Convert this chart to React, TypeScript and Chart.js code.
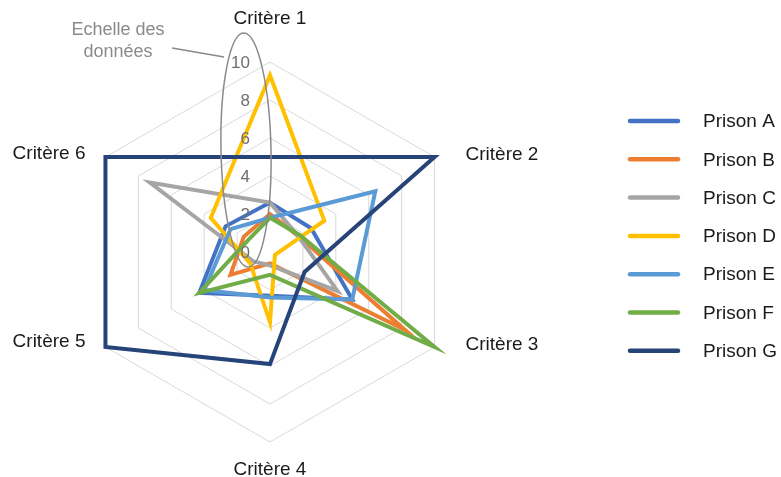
import React, { useEffect, useRef } from "react";
import { Chart, registerables } from "chart.js";

Chart.register(...registerables);

const criteria = ["Critère 1", "Critère 2", "Critère 3", "Critère 4", "Critère 5", "Critère 6"];
const tickValues = [0, 2, 4, 6, 8, 10];
const seriesNames = ["Prison A", "Prison B", "Prison C", "Prison D", "Prison E", "Prison F", "Prison G"];
const seriesColors = ["#4472C4", "#ED7D31", "#A5A5A5", "#FFC000", "#5B9BD5", "#70AD47", "#264478"];

const prisonA = [2.6, 2.5, 5.0, 2.3, 4.3, 2.7];
const prisonB = [2.0, 1.7, 8.2, 0.6, 2.4, 1.6];
const prisonC = [2.6, 1.7, 4.1, 0.7, 1.0, 7.3];
const prisonD = [9.3, 3.3, 0.3, 3.7, 1.2, 3.6];
const prisonE = [1.8, 6.4, 5.0, 2.4, 4.0, 2.4];
const prisonF = [1.8, 1.8, 10, 1.2, 4.3, 1.3];
const prisonG = [5, 10, 2.1, 5.9, 10, 10];

const seriesValues = [prisonA, prisonB, prisonC, prisonD, prisonE, prisonF, prisonG];

const annotationLines = ["Echelle des", "données"];

const FONT = "'Liberation Sans', Arial, sans-serif";

const overlayPlugin = {
  id: "overlay",
  afterDatasetsDraw(chart: any) {
    const ctx = chart.ctx as CanvasRenderingContext2D;
    const scale = chart.scales.r;
    const cx = scale.xCenter;
    const cy = scale.yCenter;
    ctx.save();

    // tick labels
    ctx.font = `17px ${FONT}`;
    ctx.fillStyle = "#6f6f6f";
    ctx.textAlign = "right";
    ctx.textBaseline = "middle";
    tickValues.forEach((v) => {
      const d = scale.getDistanceFromCenterForValue(v);
      ctx.fillText(String(v), cx - 20, cy - d + 1);
    });

    // annotation ellipse
    ctx.strokeStyle = "#8a8a8a";
    ctx.lineWidth = 1.5;
    ctx.beginPath();
    ctx.ellipse(cx - 24, cy - 102, 25, 117, -0.02, 0, Math.PI * 2);
    ctx.stroke();

    // leader line
    ctx.beginPath();
    ctx.moveTo(cx - 98, cy - 204);
    ctx.lineTo(cx - 46, cy - 195);
    ctx.stroke();

    // annotation text
    ctx.font = `18px ${FONT}`;
    ctx.fillStyle = "#8a8a8a";
    ctx.textAlign = "center";
    annotationLines.forEach((t, i) => {
      ctx.fillText(t, cx - 152, cy - 222 + i * 22);
    });

    // point labels
    ctx.font = `19px ${FONT}`;
    ctx.fillStyle = "#1a1a1a";
    const maxD = scale.getDistanceFromCenterForValue(10);
    criteria.forEach((label, i) => {
      const p = scale.getPointPosition(i, maxD);
      let x = p.x;
      let y = p.y;
      if (i === 0) {
        ctx.textAlign = "center";
        y = p.y - 43;
      } else if (i === 3) {
        ctx.textAlign = "center";
        y = p.y + 28;
      } else if (i === 1 || i === 2) {
        ctx.textAlign = "left";
        x = p.x + 31;
        y = p.y - 2;
      } else {
        ctx.textAlign = "right";
        x = p.x - 20;
        y = p.y + (i === 4 ? -5 : -3);
      }
      ctx.fillText(label, x, y);
    });

    // legend
    const legendX = 630;
    const legendTop = 121;
    const legendStep = 38.3;
    seriesNames.forEach((name, i) => {
      const y = legendTop + i * legendStep;
      ctx.strokeStyle = seriesColors[i];
      ctx.lineWidth = 4.5;
      ctx.lineCap = "round";
      ctx.beginPath();
      ctx.moveTo(legendX, y);
      ctx.lineTo(legendX + 48, y);
      ctx.stroke();
      ctx.fillStyle = "#1a1a1a";
      ctx.textAlign = "left";
      ctx.textBaseline = "middle";
      ctx.font = `19px ${FONT}`;
      ctx.fillText(name, legendX + 73, y + 1);
    });

    ctx.restore();
  },
};

export default function App() {
  const canvasRef = useRef<HTMLCanvasElement | null>(null);

  useEffect(() => {
    const canvas = canvasRef.current;
    if (!canvas) return;
    const chart = new Chart(canvas, {
      type: "radar",
      data: {
        labels: criteria,
        datasets: seriesNames.map((name, i) => ({
          label: name,
          data: seriesValues[i],
          borderColor: seriesColors[i],
          backgroundColor: "transparent",
          borderWidth: 4,
          borderJoinStyle: "miter" as const,
          fill: false,
          pointRadius: 0,
          pointHoverRadius: 0,
          tension: 0,
          order: seriesNames.length - i,
        })),
      },
      options: {
        animation: false,
        responsive: true,
        maintainAspectRatio: false,
        layout: { padding: { left: 80, right: 321, top: 62, bottom: 35 } },
        plugins: {
          legend: { display: false },
          tooltip: { enabled: false },
        },
        scales: {
          r: {
            min: 0,
            max: 10,
            beginAtZero: true,
            ticks: { stepSize: 2, display: false },
            grid: { color: "#D9D9D9", lineWidth: 1, circular: false },
            angleLines: { display: false },
            pointLabels: { display: false },
          },
        },
      },
      plugins: [overlayPlugin],
    });
    return () => chart.destroy();
  }, []);

  return (
    <div style={{ position: "fixed", left: 0, top: 0, width: 781, height: 477, background: "#fff" }}>
      <canvas ref={canvasRef} />
    </div>
  );
}
